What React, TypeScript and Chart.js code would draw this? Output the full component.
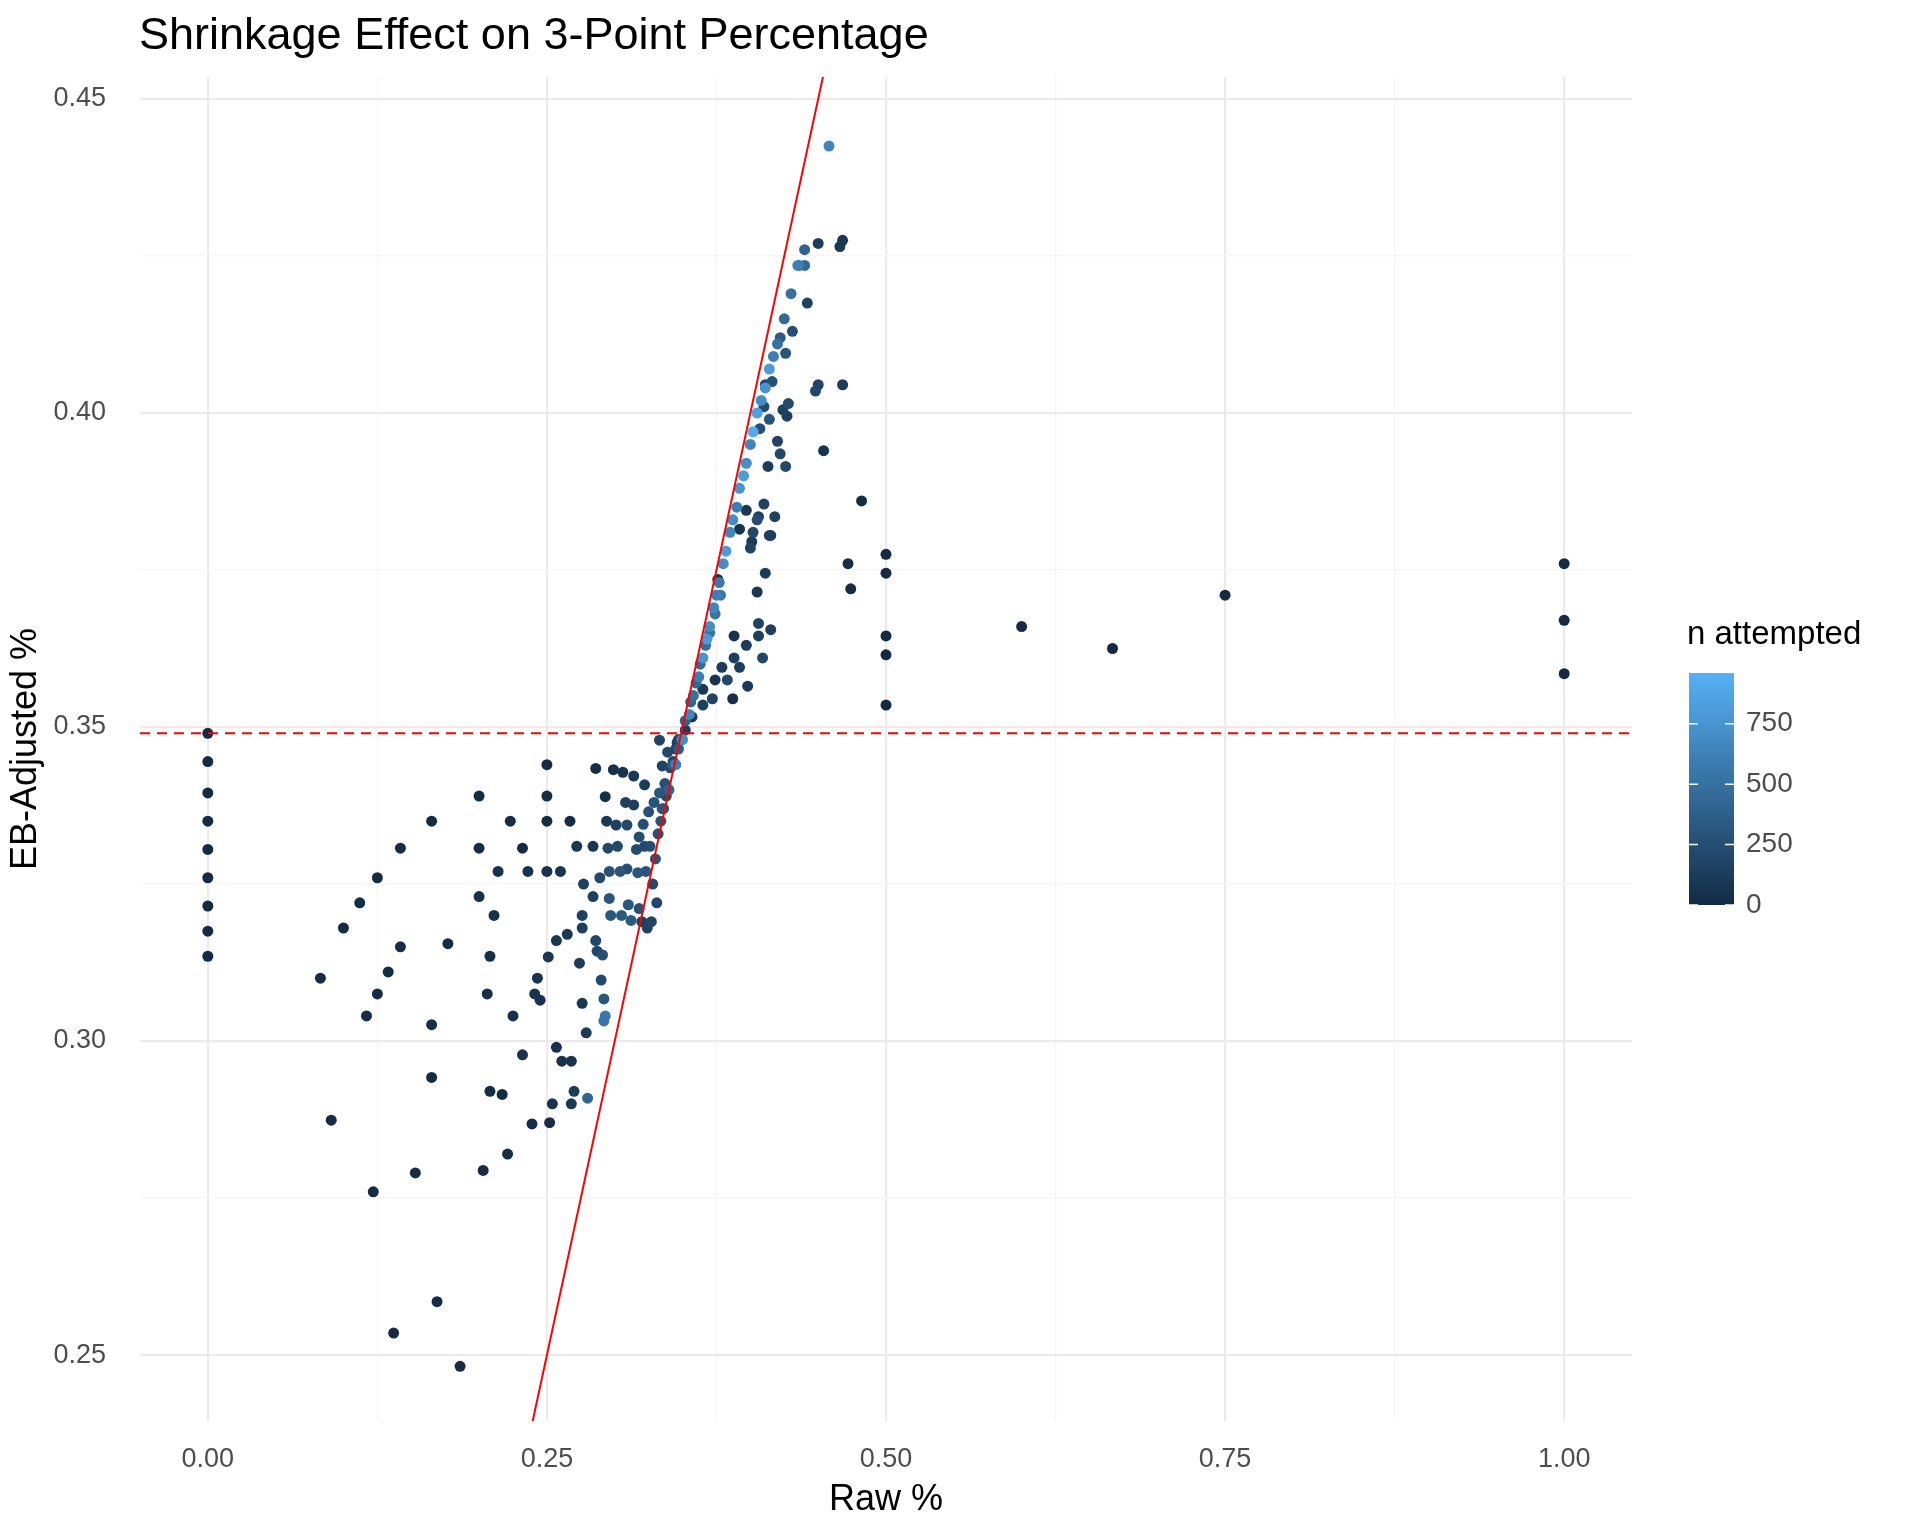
import React, { useEffect, useRef } from "react";
import { Chart, registerables } from "chart.js";
Chart.register(...registerables);

const rawPct = [0,0,0,0,0,0,0,0,0,
.083,.091,.100,.112,.117,.122,.125,.125,.133,.137,.142,.142,.153,.165,.165,.165,.169,.177,.186,.2,.2,.2,.203,.206,.208,.208,.211,.214,.217,.221,.223,.225,.232,.232,.236,.239,.241,.243,.245,.25,.25,.25,.25,.251,.252,.254,.257,.257,.26,.261,.265,.267,.268,.268,.27,.272,.274,.276,.276,.276,.277,.279,.280,.286,.284,.284,.286,.287,.289,.290,.291,.292,.293,.292,.293,.294,.295,.296,.296,.297,.299,.301,.302,.304,.305,.306,.308,.309,.309,.310,.312,.314,.314,.317,.318,.322,.322,.323,
.333,.335,.339,.346,.352,.357,.365,.365,.372,.374,.379,.383,.388,.392,.388,.397,.406,.409,.387,.398,.406,.415,.411,.405,.414,.418,.392,.376,.397,.401,.406,.410,.415,.413,.420,.422,.426,.424,.428,.427,.448,.450,.454,.468,.472,.474,.482,.500,.500,.500,.500,.500,.466,.468,.450,.442,.440,.436,.431,.426,.422,.411,.416,.414,.410,.407,.405,.402,.400,
.600,.667,.75,1,1,1,
.340,.345,.350,.355,.358,.362,.365,.368,.370,.373,.375,.377,.380,.382,.385,.387,.390,.392,.395,.397,.400,.402,.405,.408,.411,.414,.417,.420,.425,.430,.435,.440,.458,
.326,.330,.328,.332,.334,.336,.338,.331,.327,.324,.320,.316,.318,.321,.325,.329,.333,.337,.341,.343,.345,.347,.335,.339,.343,.347,.349,.352,.356,.360,.363,.367,.370,.374,.378];
const ebPct = [.349,.3445,.3395,.335,.3305,.326,.3215,.3175,.3135,
.310,.2874,.318,.322,.304,.276,.326,.3075,.311,.2535,.3307,.315,.279,.335,.3026,.2942,.2585,.3155,.2482,.339,.3307,.323,.2794,.3075,.3135,.292,.320,.327,.2915,.282,.335,.304,.3307,.2978,.327,.2868,.3075,.310,.3065,.344,.339,.335,.327,.3134,.287,.290,.316,.299,.327,.2968,.317,.335,.290,.2968,.292,.331,.3124,.320,.318,.306,.325,.3013,.2909,.3434,.331,.323,.316,.3143,.326,.3097,.3137,.3032,.304,.3067,.3389,.335,.3307,.327,.3227,.320,.3432,.3344,.331,.327,.320,.3428,.338,.3344,.3274,.3217,.3192,.3422,.3376,.3268,.3211,.3408,.331,.327,
.3479,.3438,.346,.3475,.3495,.3516,.3535,.356,.3545,.3575,.3595,.3575,.361,.3595,.3645,.363,.3665,.361,.3545,.3565,.3645,.3655,.3745,.3715,.3805,.3835,.3815,.3735,.3845,.3795,.3835,.3855,.3805,.3915,.3955,.3935,.3915,.4005,.4015,.3995,.4035,.4045,.394,.4045,.376,.372,.386,.3775,.3745,.3645,.3615,.3535,.4265,.4275,.427,.4175,.4235,.4235,.413,.4095,.412,.4045,.405,.399,.401,.3975,.383,.381,.3785,
.366,.3625,.371,.376,.367,.3585,
.340,.344,.348,.352,.355,.358,.361,.364,.366,.369,.371,.373,.376,.378,.381,.383,.385,.388,.390,.392,.395,.397,.400,.402,.404,.407,.409,.411,.415,.419,.4235,.426,.4425,
.331,.329,.325,.333,.335,.337,.339,.322,.319,.318,.319,.3305,.3325,.3345,.3365,.338,.3395,.341,.3435,.3445,.3465,.348,.337,.340,.344,.3465,.348,.351,.354,.357,.360,.363,.365,.368,.371];
const nAttempted = [4,6,5,3,8,5,7,6,9,
12,11,10,15,18,8,14,20,16,7,12,22,9,6,30,12,10,25,11,5,9,40,10,35,28,16,45,50,14,18,8,45,12,55,60,20,70,60,50,4,8,10,60,80,30,60,90,40,70,45,90,15,100,60,120,100,130,160,140,90,150,110,420,25,80,160,190,200,220,230,260,540,560,320,35,90,200,280,300,320,40,150,220,300,330,60,150,220,260,310,330,90,140,310,280,120,220,300,
180,180,200,150,120,100,160,100,180,60,120,200,150,120,60,120,180,200,40,100,140,160,120,80,140,160,60,30,90,110,140,160,120,120,180,200,210,150,220,140,200,180,60,120,30,20,15,2,4,6,3,2,90,90,120,160,450,500,250,300,350,200,280,300,220,260,240,200,180,
5,3,4,1,1,1,
400,600,700,650,500,600,750,800,700,650,600,550,700,800,650,700,600,750,800,700,650,900,850,700,750,800,600,500,450,500,600,400,650,
250,280,230,270,300,250,220,200,180,160,150,230,240,260,280,300,320,250,200,180,160,150,300,320,340,360,380,400,420,440,460,480,500,520,540];
const maxN = 960;
const xTicks = [0, 0.25, 0.5, 0.75, 1];
const yTicks = [0.25, 0.3, 0.35, 0.4, 0.45];
const leagueAvg = 0.349;

function colorFor(n: number) {
  const t = Math.max(0, Math.min(1, n / maxN));
  const a = [0x13, 0x2b, 0x43], b = [0x56, 0xb1, 0xf7];
  const c = a.map((v, i) => Math.round(v + (b[i] - v) * t));
  return `rgb(${c[0]},${c[1]},${c[2]})`;
}

const FONT = "'Liberation Sans', Arial, sans-serif";

export default function App() {
  const ref = useRef<HTMLCanvasElement>(null);
  useEffect(() => {
    document.body.style.margin = "0";
    const pts = rawPct.map((x, i) => ({ x, y: ebPct[i] }));
    const order = pts.map((_, i) => i).sort((a, b) => nAttempted[a] - nAttempted[b]);
    const data = order.map(i => pts[i]);
    const cols = order.map(i => colorFor(nAttempted[i]));
    const isMajor = (v: number, arr: number[]) => arr.some(t => Math.abs(t - v) < 1e-6);
    const deco = {
      id: "deco",
      afterDraw(chart: any) {
        const c = chart.ctx;
        c.save();
        c.fillStyle = "#000";
        c.font = `45px ${FONT}`;
        c.textBaseline = "top";
        c.fillText("Shrinkage Effect on 3-Point Percentage", 139, 14);
        c.font = `33px ${FONT}`;
        c.textBaseline = "alphabetic";
        c.fillText("n attempted", 1687, 644);
        const x0 = 1689, w = 45, top = 673, bot = 905;
        const g = c.createLinearGradient(0, bot, 0, top);
        g.addColorStop(0, colorFor(0));
        g.addColorStop(1, colorFor(maxN));
        c.fillStyle = g;
        c.fillRect(x0, top, w, bot - top);
        c.font = `28px ${FONT}`;
        c.textBaseline = "middle";
        [0, 250, 500, 750].forEach(v => {
          const y = bot - (v / maxN) * (bot - top);
          c.strokeStyle = "#fff";
          c.lineWidth = 1.5;
          c.beginPath(); c.moveTo(x0, y); c.lineTo(x0 + 9, y); c.moveTo(x0 + w - 9, y); c.lineTo(x0 + w, y); c.stroke();
          c.fillStyle = "#4D4D4D";
          c.fillText(String(v), x0 + w + 12, y);
        });
        c.restore();
      },
    };
    const chart = new Chart(ref.current!, {
      type: "scatter",
      data: {
        datasets: [
          { type: "line", data: [{ x: -0.05, y: leagueAvg }, { x: 1.05, y: leagueAvg }], borderColor: "#FF0000", borderWidth: 2, borderDash: [10, 7], pointRadius: 0, order: 1 } as any,
          { type: "line", data: [{ x: 0.2, y: 0.2 }, { x: 0.5, y: 0.5 }], borderColor: "#FF0000", borderWidth: 2, pointRadius: 0, order: 0 } as any,
          { data, pointBackgroundColor: cols, pointBorderWidth: 0, pointRadius: 5.5, order: 2 },
        ],
      },
      options: {
        animation: false,
        responsive: false,
        layout: { padding: { top: 77, right: 288, left: 0, bottom: 0 } },
        plugins: { legend: { display: false }, tooltip: { enabled: false } },
        scales: {
          x: {
            type: "linear", min: -0.05, max: 1.05,
            afterBuildTicks: (s: any) => { s.ticks = [0, 0.125, 0.25, 0.375, 0.5, 0.625, 0.75, 0.875, 1].map(v => ({ value: v })); },
            afterFit: (s: any) => { s.height = 115; },
            border: { display: false },
            grid: { color: (c: any) => isMajor(c.tick?.value, xTicks) ? "#EBEBEB" : "#F5F5F5", lineWidth: (c: any) => isMajor(c.tick?.value, xTicks) ? 2.2 : 1.2, drawTicks: false },
            ticks: { padding: 22, color: "#4D4D4D", font: { size: 27, family: FONT }, callback: (v: any) => isMajor(v, xTicks) ? Number(v).toFixed(2) : "" },
            title: { display: true, text: "Raw %", color: "#000", font: { size: 36, family: FONT }, padding: { top: 0, bottom: 14 } },
          },
          y: {
            type: "linear", min: 0.2395, max: 0.4535,
            afterBuildTicks: (s: any) => { s.ticks = [0.25, 0.275, 0.3, 0.325, 0.35, 0.375, 0.4, 0.425, 0.45].map(v => ({ value: v })); },
            afterFit: (s: any) => { s.width = 140; },
            border: { display: false },
            grid: { color: (c: any) => isMajor(c.tick?.value, yTicks) ? "#EBEBEB" : "#F5F5F5", lineWidth: (c: any) => isMajor(c.tick?.value, yTicks) ? 2.2 : 1.2, drawTicks: false },
            ticks: { padding: 34, color: "#4D4D4D", font: { size: 27, family: FONT }, callback: (v: any) => isMajor(v, yTicks) ? Number(v).toFixed(2) : "" },
            title: { display: true, text: "EB-Adjusted %", color: "#000", font: { size: 36, family: FONT } },
          },
        },
      },
      plugins: [deco],
    });
    return () => chart.destroy();
  }, []);
  return <canvas ref={ref} width={1920} height={1536} style={{ display: "block" }} />;
}
